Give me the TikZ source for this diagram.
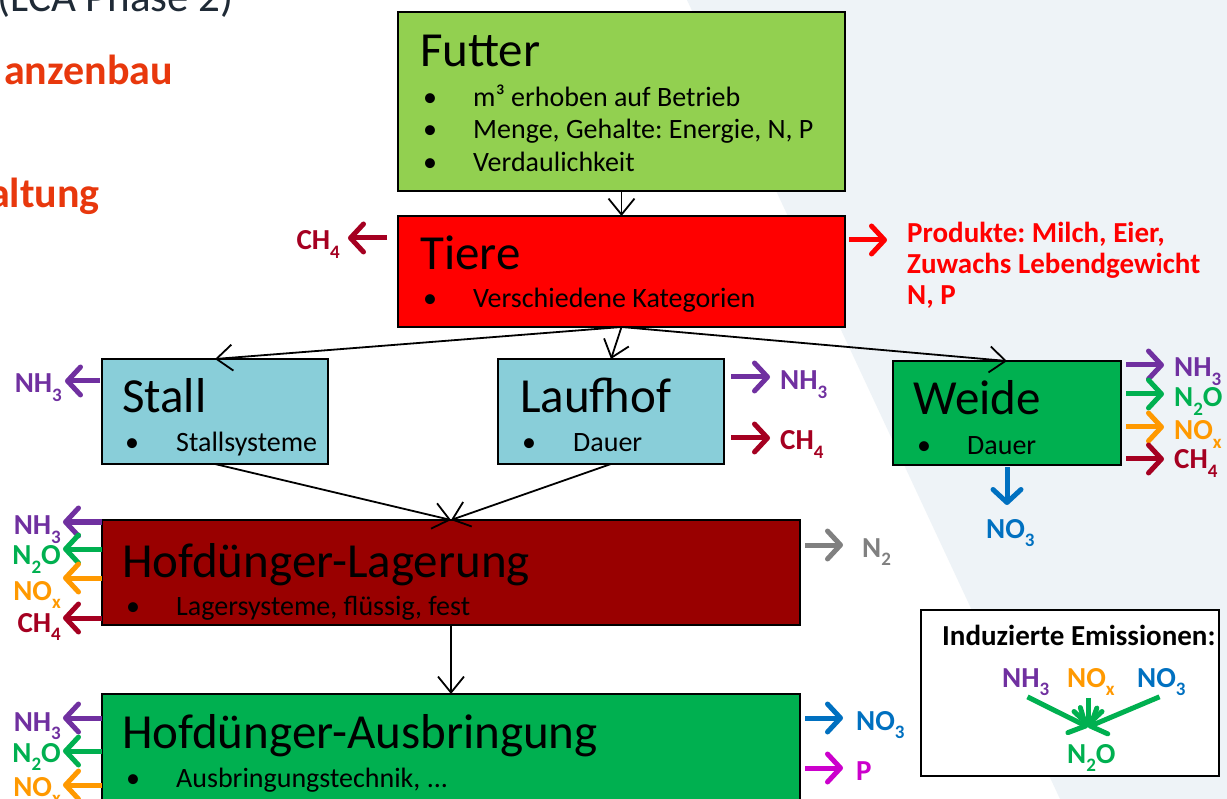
\documentclass[tikz,border=0pt]{standalone}
\usepackage{fontspec}
\setmainfont{Carlito}
\usetikzlibrary{arrows.meta}

\definecolor{futtergreen}{HTML}{92D050}
\definecolor{stallblue}{HTML}{89CED9}
\definecolor{weidegreen}{HTML}{00B050}
\definecolor{lagerred}{HTML}{990000}
\definecolor{nhpurple}{HTML}{7030A0}
\definecolor{nogreen}{HTML}{00B050}
\definecolor{noxorange}{HTML}{FF9900}
\definecolor{chred}{HTML}{A50021}
\definecolor{noblue}{HTML}{0070C0}
\definecolor{ngrey}{HTML}{808080}
\definecolor{pmagenta}{HTML}{CC00CC}
\definecolor{headred}{HTML}{E8380D}
\definecolor{paleblue}{HTML}{EEF3F7}
\definecolor{darktext}{HTML}{1F2A36}

\newcommand{\itembul}{\makebox[50pt][l]{\textbullet}}
\newcommand{\chemsub}[1]{\raisebox{-0.3em}{\fontsize{19}{19}\selectfont #1}}
\frenchspacing

\begin{document}
\begin{tikzpicture}[x=1pt,y=-1pt,
    box/.style={draw,line width=1.5pt,anchor=north west,inner sep=0pt,outer sep=0pt},
    title/.style={anchor=base west,inner sep=0pt,font=\fontsize{49}{55}\selectfont},
    items/.style={anchor=base west,inner sep=0pt,font=\fontsize{28}{32}\selectfont},
    emtext/.style={text=#1,inner sep=0pt,font=\bfseries\fontsize{29}{31}\selectfont},
    emi/.style={draw=#1,line width=5pt,-{Straight Barb[round,length=13pt,width=28pt,line width=5pt]}},
    flow/.style={line width=1.8pt,-{Straight Barb[length=16pt,width=26pt]}}]
    \useasboundingbox (0,0) rectangle (1227,799);
    \clip (0,0) rectangle (1227,799);
    \fill[white] (0,0) rectangle (1227,799);
    \fill[paleblue] (687,0) -- (1227,0) -- (1227,799) -- (1060,799) -- cycle;

    % slide text cut at the edge
    \node[anchor=base east,inner sep=0pt,text=darktext,font=\fontsize{43}{48}\selectfont] (phase) at (234,12) {(LCA Phase 2)};
    \node[anchor=base east,inner sep=0pt,text=headred,font=\bfseries\fontsize{42}{48}\selectfont] (pflanz) at (173,85) {anzenbau};
    \node[anchor=base east,inner sep=0pt,text=headred,font=\bfseries\fontsize{42}{48}\selectfont] (tierh) at (100,208) {altung};

    % boxes
    \node[box,fill=futtergreen,minimum width=447pt,minimum height=179pt] (futter) at (398,12) {};
    \node[box,fill=red,minimum width=447pt,minimum height=111pt] (tiere) at (398,216) {};
    \node[box,fill=stallblue,minimum width=226pt,minimum height=105pt] (stall) at (102,359) {};
    \node[box,fill=stallblue,minimum width=226pt,minimum height=105pt] (laufhof) at (498,359) {};
    \node[box,fill=weidegreen,minimum width=228pt,minimum height=104pt] (weide) at (893,361) {};
    \node[box,fill=lagerred,minimum width=698pt,minimum height=105pt] (lager) at (102,520) {};
    \node[box,fill=weidegreen,minimum width=698pt,minimum height=140pt] (ausbr) at (102,694) {};
    \node[box,fill=white,minimum width=298pt,minimum height=166pt] (induz) at (921,610) {};

    \node[title] (futtert) at (420,67) {Futter};
    \foreach \t [count=\i] in {m³ erhoben auf Betrieb,{Menge, Gehalte: Energie, N, P},Verdaulichkeit}
        \node[items] (fut\i) at (423,{74+32.5*\i}) {\itembul\t};
    \node[title] (tieret) at (420,270) {Tiere};
    \node[items] (tier1) at (423,308) {\itembul Verschiedene Kategorien};
    \node[title] (stallt) at (122,413) {Stall};
    \node[items] (stall1) at (125,452) {\makebox[51pt][l]{\textbullet}Stallsysteme};
    \node[title] (laufhoft) at (520,413) {Laufhof};
    \node[items] (laufhof1) at (522,452) {\makebox[51pt][l]{\textbullet}Dauer};
    \node[title] (weidet) at (913,415) {Weide};
    \node[items] (weide1) at (917,455) {\itembul Dauer};
    \node[title] (lagert) at (122,577) {Hofdünger-Lagerung};
    \node[items] (lager1) at (126,615) {\itembul Lagersysteme, flüssig, fest};
    \node[title] (ausbrt) at (122,748) {Hofdünger-Ausbringung};
    \node[items] (ausbr1) at (126,787) {\itembul Ausbringungstechnik, ...};

    % flow
    \draw[flow] (futter.south) -- (tiere.north);
    \draw[flow] (tiere.south) -- (stall.north);
    \draw[flow] (tiere.south) -- (laufhof.north);
    \draw[flow] (tiere.south) -- (weide.north);
    \draw[flow] (stall.south) -- (lager.north);
    \draw[flow] (laufhof.south) -- (lager.north);
    \draw[flow] (lager.south) -- (ausbr.north);

    % Tiere
    \coordinate (tierch) at (348,238);
    \node[emtext=chred,anchor=base east] (tierchl) at (340,250) {CH\chemsub{4}};
    \draw[emi=chred,shorten <=11pt] (tiere.west |- tierch) -- (tierch);
    \coordinate (prodtip) at (887,240);
    \draw[emi=red,shorten <=4pt] (tiere.east |- prodtip) -- (prodtip);
    \foreach \t [count=\i] in {{Produkte: Milch, Eier,},Zuwachs Lebendgewicht,{N, P}}
        \node[emtext=red,anchor=base west] (prod\i) at (907,{212+31*\i}) {\t};

    % Stall, Laufhof, Weide
    \coordinate (stallnh) at (65,381);
    \node[emtext=nhpurple,anchor=base east] (stallnhl) at (62,393) {NH\chemsub{3}};
    \draw[emi=nhpurple,shorten <=2pt] (stall.west |- stallnh) -- (stallnh);
    \foreach \lab/\col/\ty/\by [count=\i] in {NH\chemsub{3}/nhpurple/377/390,CH\chemsub{4}/chred/438/450}{
        \coordinate (lauftip\i) at (770,\ty);
        \node[emtext=\col,anchor=base west] (laufem\i) at (780,\by) {\lab};
        \draw[emi=\col,shorten <=7pt] (laufhof.east |- lauftip\i) -- (lauftip\i);
    }
    \foreach \lab/\col/\ty/\by [count=\i] in {NH\chemsub{3}/nhpurple/365/377,N\chemsub{2}O/nogreen/394/407,NO\chemsub{x}/noxorange/427/440,CH\chemsub{4}/chred/459/469}{
        \coordinate (weidetip\i) at (1164,\ty);
        \node[emtext=\col,anchor=base west] (weideem\i) at (1174,\by) {\lab};
        \draw[emi=\col,shorten <=5pt] (weide.east |- weidetip\i) -- (weidetip\i);
    }
    \coordinate (weideno) at (1007,505);
    \draw[emi=noblue,shorten <=2pt] (weide.south) -- (weideno);
    \node[emtext=noblue,anchor=base west] (weidenol) at (986,538) {NO\chemsub{3}};

    % Hofduenger
    \foreach \lab/\col/\ty/\by [count=\i] in {NH\chemsub{3}/nhpurple/522/535,N\chemsub{2}O/nogreen/549/565,NO\chemsub{x}/noxorange/578/600,CH\chemsub{4}/chred/618/632}{
        \coordinate (lagtip\i) at (63,\ty);
        \node[emtext=\col,anchor=base east] (lagem\i) at (61,\by) {\lab};
        \draw[emi=\col] (lager.west |- lagtip\i) -- (lagtip\i);
    }
    \foreach \lab/\col/\ty/\by [count=\i] in {NH\chemsub{3}/nhpurple/718/731,N\chemsub{2}O/nogreen/751/762,NO\chemsub{x}/noxorange/785/796}{
        \coordinate (austip\i) at (63,\ty);
        \node[emtext=\col,anchor=base east] (ausem\i) at (61,\by) {\lab};
        \draw[emi=\col] (ausbr.west |- austip\i) -- (austip\i);
    }
    \coordinate (lagn) at (843,545);
    \node[emtext=ngrey,anchor=base west] (lagnl) at (862,557) {N\chemsub{2}};
    \draw[emi=ngrey,shorten <=5pt] (lager.east |- lagn) -- (lagn);
    \foreach \lab/\col/\ty/\by [count=\i] in {NO\chemsub{3}/noblue/718/730,P/pmagenta/768/780}{
        \coordinate (ausrtip\i) at (843,\ty);
        \node[emtext=\col,anchor=base west] (ausrem\i) at (856,\by) {\lab};
        \draw[emi=\col,shorten <=5pt] (ausbr.east |- ausrtip\i) -- (ausrtip\i);
    }

    % induzierte Emissionen
    \node[emtext=black,anchor=base west] (indtitle) at (942,645) {Induzierte Emissionen:};
    \node[emtext=nhpurple,anchor=base west] (indnh) at (1002,687) {NH\chemsub{3}};
    \node[emtext=noxorange,anchor=base west] (indnox) at (1067,687) {NO\chemsub{x}};
    \node[emtext=noblue,anchor=base west] (indno) at (1137,687) {NO\chemsub{3}};
    \node[emtext=nogreen,anchor=base west] (indn2o) at (1067,763) {N\chemsub{2}O};
    \coordinate (indtip) at (1088,727);
    \draw[emi=nogreen,shorten <=2pt] (indnh.south) -- (indtip);
    \draw[emi=nogreen,shorten <=2pt] (indtip |- indnox.south) -- (indtip);
    \draw[emi=nogreen,shorten <=2pt] (indno.south) -- (indtip);
\end{tikzpicture}
\end{document}
